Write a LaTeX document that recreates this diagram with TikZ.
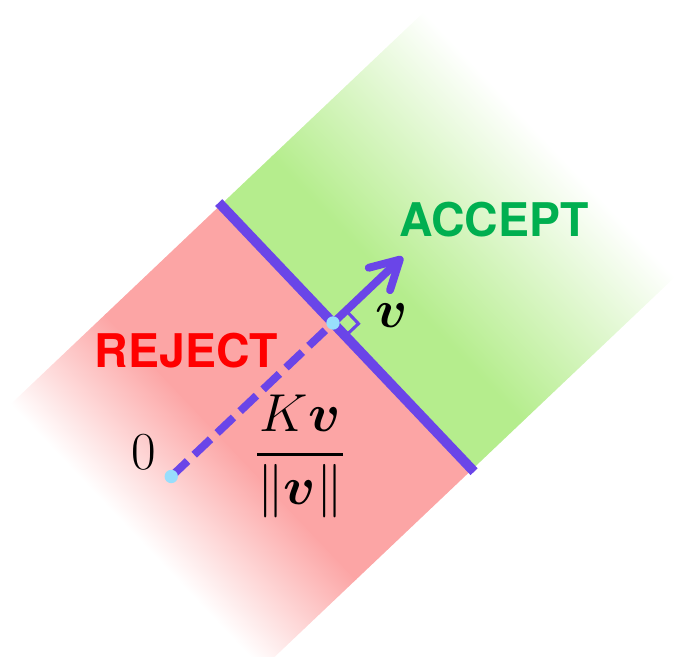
\RequirePackage{fix-cm}
\documentclass[tikz,border=0pt]{standalone}
\usepackage{amsmath,amssymb,bm}
\usepackage{fontspec}
\newfontfamily\regionFont{TeX Gyre Heros}
\usetikzlibrary{arrows.meta, positioning, calc}
\definecolor{rejectFill}{HTML}{FCA5A5}
\definecolor{acceptFill}{HTML}{B5ED8D}
\definecolor{boundaryPurple}{HTML}{6A45E8}
\definecolor{dotBlue}{HTML}{98DEFC}
\definecolor{acceptText}{HTML}{00AF50}
\definecolor{rejectText}{HTML}{FF0000}

\begin{document}
\begin{tikzpicture}[
  x=0.025cm, y=0.025cm,
  every node/.style={inner sep=0pt},
  boundaryLine/.style={draw=boundaryPurple, line width=7pt},
  offsetLine/.style={draw=boundaryPurple, line width=5.6pt, dash pattern=on 16pt off 6.5pt},
  vecArrow/.style={draw=boundaryPurple, line width=5.6pt, -{Straight Barb[length=20pt, width=22pt, round]}},
  rightMark/.style={draw=boundaryPurple, line width=2.2pt},
  dotNode/.style={circle, fill=dotBlue, minimum size=9.5pt},
  regionLabel/.style={font=\regionFont\bfseries\fontsize{33}{36}\selectfont},
  mathLabel/.style={font=\fontsize{38}{42}\selectfont}
]
  \useasboundingbox (0,0) rectangle (674,656);

  % half-planes, faded at the far ends
  \begin{scope}[transform canvas={shift={(333,333)}, rotate=43.5}]
    \shade[left color=white, right color=rejectFill] (-290,-202) rectangle (-159,163);
    \fill[rejectFill] (-160,-202) rectangle (0,163);
    \fill[acceptFill] (0,-202) rectangle (71,163);
    \shade[left color=acceptFill, right color=white] (70,-202) rectangle (280,163);
  \end{scope}

  \begin{scope}[shift={(333,333)}, rotate=43.5]
    \coordinate (bTop) at (0,166);
    \coordinate (bBot) at (0,-205);
    \coordinate (oPt) at (-223,0);
    \coordinate (pPt) at (0,0);
    \coordinate (vTip) at (96,0);
    \draw[rightMark] (0,0) rectangle (18,-18);
  \end{scope}

  \draw[boundaryLine] (bTop) -- (bBot);
  \draw[offsetLine] (oPt) -- (pPt);
  \draw[vecArrow] (pPt) -- (vTip);

  \node[dotNode] (origin) at (oPt) {};
  \node[dotNode] (foot) at (pPt) {};

  \node[mathLabel, above left=1pt and 7pt of origin] (zeroLabel) {$0$};
  \node[mathLabel] (vLabel) at (392,340) {$\bm{v}$};
  \node[mathLabel] (offsetLabel) at (300,199.5) {$\dfrac{K\bm{v}}{\|\bm{v}\|}$};

  \node[regionLabel, text=acceptText] (accept) at (494,436.5) {ACCEPT};
  \node[regionLabel, text=rejectText] (reject) at (186.5,305.5) {REJECT};
\end{tikzpicture}
\end{document}
